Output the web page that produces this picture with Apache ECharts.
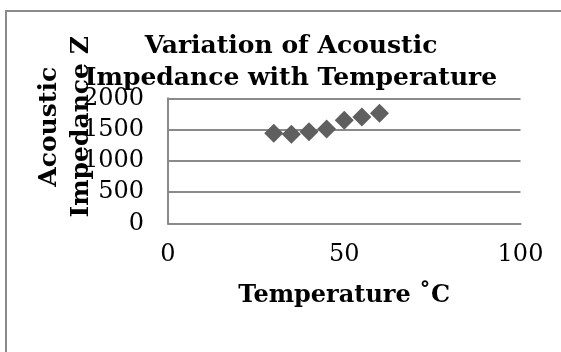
<!DOCTYPE html>
<html>
<head>
<meta charset="utf-8">
<script src="https://cdn.jsdelivr.net/npm/echarts@6/dist/echarts.min.js"></script>
<style>
html,body{margin:0;padding:0;background:#fff;}
#chart{width:561px;height:352px;}
</style>
</head>
<body>
<div id="chart"></div>
<script>
var temperature = [30, 35, 40, 45, 50, 55, 60];
var impedance = [1440, 1425, 1465, 1510, 1650, 1700, 1760];
var chartTitle = 'Variation of Acoustic\nImpedance with Temperature';
var xName = 'Temperature \u02DAC';
var yName = 'Acoustic\nImpedance Z';

var points = temperature.map(function (t, i) { return [t, impedance[i]]; });

var chart = echarts.init(document.getElementById('chart'), null, {renderer: 'canvas'});
chart.setOption({
  backgroundColor: '#ffffff',
  animation: false,
  graphic: [{
    type: 'rect',
    shape: {x: 6, y: 11, width: 1000, height: 1000},
    style: {fill: 'none', stroke: '#8a8a8a', lineWidth: 2},
    silent: true
  }],
  title: {
    text: chartTitle,
    left: 286,
    top: 25,
    textAlign: 'center',
    textStyle: {
      fontFamily: 'DejaVu Serif',
      fontWeight: 'bold',
      fontSize: 25,
      lineHeight: 32,
      color: '#000'
    }
  },
  grid: {left: 168, right: 40.5, top: 98.3, bottom: 128.7},
  xAxis: {
    type: 'value',
    min: 0, max: 100, interval: 50,
    name: xName,
    nameLocation: 'middle',
    nameGap: 60,
    nameMoveOverlap: false,
    nameTextStyle: {fontFamily: 'DejaVu Serif', fontWeight: 'bold', fontSize: 24, color: '#000'},
    axisLine: {show: true, lineStyle: {color: '#8a8a8a', width: 2}},
    axisTick: {show: false},
    splitLine: {show: false},
    axisLabel: {fontFamily: 'DejaVu Serif', fontSize: 24, color: '#000', margin: 19,
      formatter: function (v) { return String(v); }}
  },
  yAxis: {
    type: 'value',
    min: 0, max: 2000, interval: 500,
    name: yName,
    nameLocation: 'middle',
    nameGap: 71,
    nameMoveOverlap: false,
    nameTextStyle: {fontFamily: 'DejaVu Serif', fontWeight: 'bold', fontSize: 25, lineHeight: 32, color: '#000', padding: [0, 0, 0, 68]},
    axisLine: {show: true, lineStyle: {color: '#8a8a8a', width: 2}},
    axisTick: {show: false},
    splitLine: {show: true, lineStyle: {color: '#8a8a8a', width: 2}},
    axisLabel: {fontFamily: 'DejaVu Serif', fontSize: 24, color: '#000', margin: 24,
      formatter: function (v) { return String(v); }}
  },
  series: [{
    type: 'scatter',
    data: points,
    symbol: 'diamond',
    symbolSize: 19,
    itemStyle: {color: '#5f5f5f', opacity: 1}
  }]
});
</script>
</body>
</html>
